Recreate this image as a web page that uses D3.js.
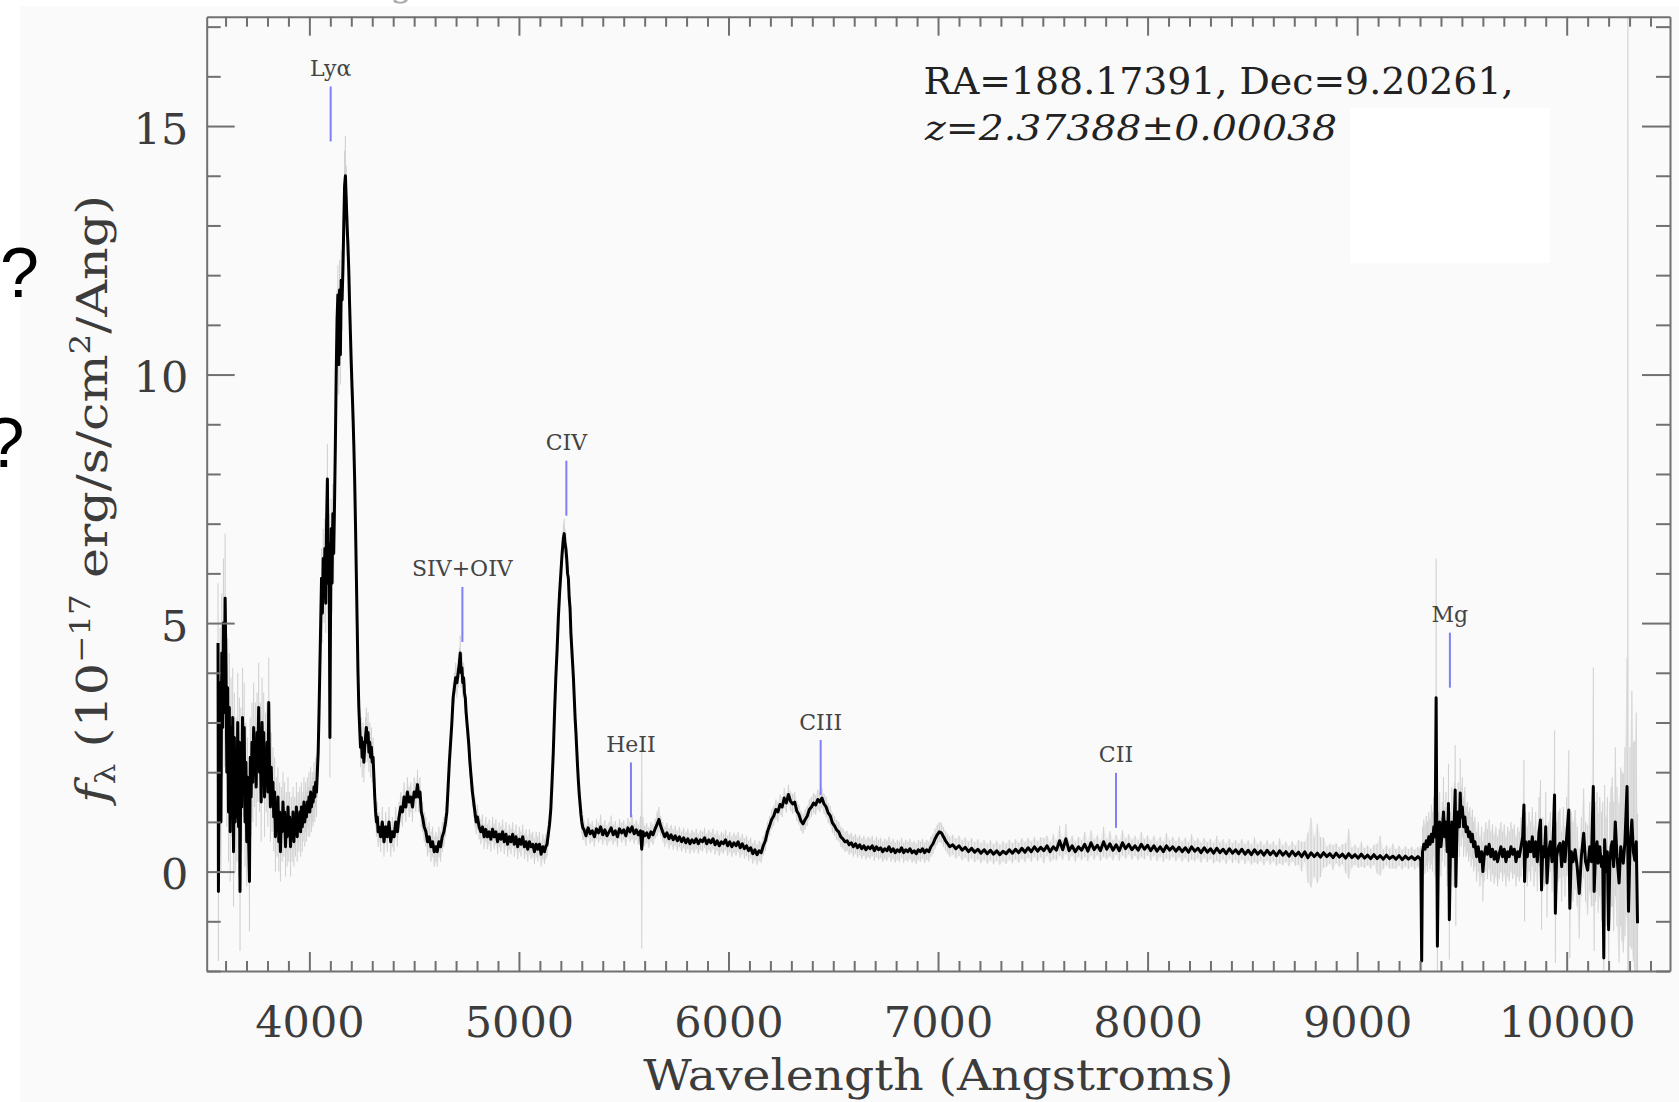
<!DOCTYPE html>
<html><head><meta charset="utf-8">
<script src="https://cdn.jsdelivr.net/npm/d3@7"></script>
<style>html,body{margin:0;padding:0;background:#fff;overflow:hidden}</style>
</head><body>
<svg id="chart" width="1679" height="1102"></svg>
<script>
// ---------------- DATA ----------------
// Axis ranges and tick labels
const xDomain = [3510, 10493];
const yDomain = [-2, 17.2];
const xMajor = [4000, 5000, 6000, 7000, 8000, 9000, 10000];
const yMajor = [0, 5, 10, 15];

// Spectrum: [wavelength (Å), flux (1e-17), error]
const specBlue = [[3564,4.6,1.2],[3566,-0.4,1.4],[3570,2.5,1.0],[3574,3.8,1.1],[3578,1.0,1.0],[3582,4.4,1.2],[3586,2.9,1.0],[3590,5.0,1.3],[3594,3.2,1.1],[3598,5.5,1.3],[3602,4.1,1.2],[3606,2.0,1.1],[3610,3.7,1.0],[3614,1.2,1.0],[3618,3.3,1.1],[3622,0.8,1.0],[3626,2.9,1.0],[3630,1.6,0.9],[3634,3.1,1.0],[3638,0.4,1.1],[3642,2.7,0.9],[3646,1.0,1.0],[3650,2.2,0.9],[3654,1.1,0.9],[3658,3.0,1.0],[3662,0.9,1.0],[3666,2.6,0.9],[3669,-0.4,1.2],[3673,2.4,0.9],[3677,1.3,0.9],[3681,3.1,1.0],[3685,2.0,0.9],[3689,2.9,0.9],[3693,1.0,0.9],[3697,2.2,0.8],[3701,0.6,0.9],[3705,1.9,0.8],[3709,0.9,0.8],[3714,-0.2,1.0],[3718,2.3,0.8],[3722,1.5,0.8],[3726,2.6,0.8],[3730,1.8,0.8],[3734,2.9,0.9],[3738,2.1,0.8],[3742,2.6,0.8],[3746,1.7,0.8],[3750,2.8,0.8],[3754,2.2,0.8],[3758,3.3,0.9],[3762,2.0,0.8],[3766,2.6,0.8],[3770,1.4,0.8],[3774,3.0,0.9],[3778,2.3,0.8],[3782,2.8,0.8],[3786,1.5,0.8],[3790,2.4,0.8],[3794,1.9,0.7],[3798,2.6,0.8],[3802,1.6,0.7],[3806,3.4,0.9],[3810,2.0,0.7],[3814,1.3,0.7],[3818,2.1,0.7],[3822,1.5,0.7],[3826,1.8,0.7],[3830,1.1,0.7],[3834,1.6,0.7],[3838,0.7,0.7],[3842,1.3,0.6],[3846,0.9,0.6],[3850,1.5,0.6],[3854,0.6,0.6],[3858,1.2,0.6],[3862,0.4,0.6],[3866,1.1,0.6],[3870,0.8,0.6],[3874,1.4,0.6],[3878,0.9,0.6],[3882,1.2,0.6],[3886,0.5,0.6],[3890,1.0,0.6],[3894,0.7,0.6],[3898,1.3,0.6],[3902,0.8,0.6],[3906,1.1,0.5],[3910,0.5,0.6],[3914,1.0,0.5],[3918,0.7,0.5],[3922,1.2,0.5],[3926,0.6,0.5],[3930,1.0,0.5],[3934,0.8,0.5],[3938,1.3,0.5],[3942,0.7,0.5],[3946,1.1,0.5],[3950,0.9,0.5],[3954,1.2,0.5],[3958,0.8,0.5],[3962,1.3,0.5],[3966,0.9,0.5],[3970,1.1,0.5],[3974,1.4,0.5],[3978,1.0,0.5],[3982,1.3,0.5],[3986,1.1,0.5],[3990,1.4,0.5],[3994,1.2,0.5],[3998,1.5,0.5],[4002,1.2,0.5],[4006,1.6,0.5],[4010,1.3,0.5],[4014,1.5,0.5],[4018,1.4,0.5],[4022,1.7,0.5],[4026,1.5,0.5],[4030,1.8,0.5],[4034,1.6,0.5],[4038,2.0,0.5]];

const specLya = [[4042,2.4,0.5],[4046,3.2,0.5],[4050,4.1,0.6],[4054,5.0,0.6],[4058,5.9,0.6],[4062,5.2,0.6],[4066,6.3,0.6],[4070,5.6,0.6],[4074,6.5,0.6],[4078,5.4,0.6],[4082,7.0,0.6],[4086,7.9,0.7],[4090,5.8,0.6],[4094,6.6,0.6],[4098,2.7,0.8],[4101,5.2,0.6],[4104,6.9,0.6],[4108,5.8,0.6],[4112,7.2,0.6],[4116,6.4,0.6],[4120,7.4,0.6],[4124,8.6,0.6],[4128,10.0,0.6],[4132,11.1,0.6],[4136,11.6,0.6],[4140,10.2,0.6],[4144,11.7,0.6],[4148,10.4,0.6],[4152,11.9,0.6],[4156,11.5,0.6],[4160,12.1,0.6],[4164,13.0,0.6],[4168,13.8,0.7],[4172,14.0,0.8],[4176,13.5,0.7],[4180,13.0,0.6],[4184,12.6,0.6],[4188,12.1,0.6],[4192,11.4,0.6],[4196,10.8,0.6],[4200,10.2,0.6],[4204,9.7,0.6],[4208,9.2,0.5],[4212,8.6,0.5],[4216,7.9,0.5],[4220,7.0,0.5],[4224,6.0,0.5],[4228,5.0,0.5],[4232,4.0,0.5],[4236,3.3,0.5],[4240,2.9,0.4],[4244,2.5,0.4],[4248,2.7,0.4],[4252,2.3,0.4],[4256,2.6,0.4],[4260,2.2,0.4],[4264,2.5,0.4],[4268,2.7,0.4],[4272,2.9,0.4],[4276,2.6,0.4],[4280,2.8,0.4],[4284,2.4,0.4],[4288,2.6,0.4],[4292,2.3,0.4],[4296,2.5,0.4],[4300,2.2,0.4],[4304,2.3,0.4],[4308,1.9,0.4],[4312,1.5,0.4],[4316,1.2,0.3],[4320,1.0,0.3],[4324,1.1,0.3],[4328,0.8,0.3]];

const specCIV = [[4332,0.9,0.3],[4340,0.7,0.3],[4348,1.0,0.3],[4356,0.6,0.3],[4364,0.9,0.3],[4372,0.7,0.3],[4380,1.0,0.3],[4388,0.6,0.3],[4396,0.8,0.3],[4404,0.7,0.3],[4412,1.0,0.3],[4420,0.8,0.3],[4428,1.1,0.3],[4436,1.3,0.3],[4444,1.2,0.3],[4452,1.5,0.3],[4460,1.3,0.3],[4468,1.6,0.3],[4476,1.4,0.3],[4484,1.5,0.3],[4492,1.3,0.3],[4500,1.6,0.3],[4508,1.5,0.3],[4516,1.75,0.3],[4522,1.5,0.3],[4528,1.6,0.3],[4534,1.2,0.3],[4540,1.1,0.3],[4548,0.9,0.3],[4556,0.8,0.3],[4564,0.6,0.3],[4572,0.7,0.3],[4580,0.5,0.3],[4588,0.6,0.3],[4596,0.4,0.3],[4604,0.5,0.3],[4610,0.4,0.3],[4618,0.6,0.3],[4626,0.5,0.3],[4634,0.7,0.3],[4642,0.8,0.3],[4650,1.0,0.3],[4656,1.2,0.3],[4662,1.7,0.3],[4668,2.2,0.3],[4674,2.6,0.3],[4680,3.0,0.3],[4686,3.5,0.3],[4692,3.7,0.3],[4698,3.9,0.3],[4704,3.8,0.3],[4710,4.0,0.3],[4716,4.2,0.3],[4720,4.4,0.35],[4724,4.0,0.3],[4728,4.1,0.3],[4732,3.8,0.3],[4736,3.9,0.3],[4740,3.6,0.3],[4744,3.5,0.3],[4748,3.2,0.3],[4754,2.9,0.3],[4760,2.6,0.3],[4766,2.2,0.3],[4772,1.9,0.3],[4778,1.6,0.3],[4784,1.4,0.3],[4790,1.2,0.3],[4796,1.0,0.25],[4802,1.1,0.25],[4810,0.9,0.25],[4818,0.8,0.25],[4826,0.9,0.25],[4834,0.7,0.25],[4842,0.85,0.25],[4850,0.7,0.25],[4858,0.8,0.25],[4866,0.65,0.25],[4874,0.85,0.25],[4882,0.7,0.25],[4890,0.8,0.25],[4898,0.6,0.25],[4906,0.75,0.25],[4914,0.65,0.25],[4922,0.8,0.25],[4930,0.6,0.25],[4938,0.75,0.25],[4946,0.55,0.25],[4954,0.7,0.25],[4962,0.6,0.25],[4970,0.75,0.25],[4978,0.55,0.25],[4986,0.7,0.25],[4994,0.5,0.25],[5002,0.65,0.25],[5010,0.55,0.25],[5018,0.7,0.25],[5026,0.5,0.25],[5034,0.6,0.25],[5042,0.45,0.25],[5050,0.6,0.25],[5058,0.5,0.25],[5066,0.55,0.25],[5074,0.4,0.25],[5082,0.55,0.25],[5090,0.45,0.25],[5098,0.55,0.25],[5106,0.35,0.25],[5114,0.5,0.25],[5122,0.4,0.25],[5128,0.5,0.25],[5134,0.55,0.25],[5140,0.75,0.25],[5146,0.95,0.25],[5152,1.25,0.25],[5158,1.8,0.25],[5164,2.4,0.25],[5170,3.2,0.25],[5176,3.9,0.25],[5182,4.45,0.25],[5188,5.1,0.25],[5194,5.6,0.25],[5200,6.0,0.25],[5206,6.4,0.25],[5212,6.7,0.3],[5216,6.8,0.3],[5220,6.6,0.3],[5224,6.5,0.3],[5228,6.3,0.3],[5232,6.0,0.25],[5236,5.9,0.25],[5240,5.5,0.25],[5244,5.3,0.25],[5248,4.8,0.25],[5252,4.5,0.25],[5256,4.2,0.25],[5260,3.9,0.25],[5264,3.5,0.25],[5268,3.1,0.25],[5272,2.8,0.25],[5276,2.45,0.25],[5280,2.1,0.25],[5284,1.8,0.25],[5288,1.55,0.25],[5292,1.35,0.25],[5296,1.15,0.25],[5300,1.0,0.25],[5305,0.88,0.25]];

const specMid = [[5310,0.85,0.2],[5320,0.72,0.2],[5330,0.88,0.2],[5340,0.76,0.2],[5350,0.82,0.2],[5360,0.70,0.2],[5370,0.86,0.2],[5380,0.78,0.2],[5390,0.90,0.25],[5400,0.74,0.2],[5410,0.84,0.2],[5420,0.72,0.2],[5430,0.80,0.2],[5440,0.88,0.25],[5450,0.74,0.2],[5460,0.82,0.2],[5470,0.70,0.2],[5480,0.86,0.2],[5490,0.78,0.2],[5500,0.84,0.2],[5510,0.72,0.2],[5520,0.88,0.2],[5530,0.80,0.2],[5540,0.90,0.25],[5550,0.76,0.2],[5560,0.84,0.2],[5570,0.74,0.2],[5580,0.82,0.3],[5586,0.45,2.0],[5592,0.80,0.3],[5600,0.72,0.2],[5610,0.78,0.2],[5620,0.68,0.2],[5630,0.80,0.2],[5640,0.74,0.2],[5650,0.86,0.2],[5660,0.96,0.25],[5668,1.05,0.25],[5676,0.92,0.2],[5686,0.80,0.2],[5696,0.70,0.2],[5706,0.78,0.2],[5716,0.66,0.2],[5726,0.74,0.2],[5736,0.64,0.2],[5746,0.72,0.2],[5756,0.62,0.2],[5766,0.70,0.2],[5776,0.60,0.2],[5786,0.68,0.2],[5796,0.58,0.2],[5806,0.66,0.2],[5816,0.56,0.2],[5826,0.64,0.2],[5836,0.58,0.2],[5846,0.66,0.2],[5856,0.56,0.2],[5866,0.64,0.2],[5876,0.60,0.2],[5886,0.68,0.2],[5896,0.56,0.2],[5906,0.64,0.2],[5916,0.58,0.2],[5926,0.66,0.2],[5936,0.54,0.2],[5946,0.62,0.2],[5956,0.52,0.2],[5966,0.60,0.2],[5976,0.56,0.2],[5986,0.64,0.2],[5996,0.52,0.2],[6006,0.60,0.2],[6016,0.50,0.2],[6026,0.58,0.2],[6036,0.52,0.2],[6046,0.60,0.2],[6056,0.48,0.2],[6066,0.56,0.2],[6076,0.46,0.2],[6086,0.52,0.2],[6096,0.42,0.2],[6106,0.48,0.2],[6116,0.36,0.2],[6126,0.44,0.2],[6136,0.34,0.2],[6146,0.42,0.2],[6156,0.38,0.2],[6166,0.52,0.2],[6176,0.62,0.2],[6186,0.80,0.2],[6196,0.92,0.2],[6206,1.05,0.2],[6216,1.12,0.2],[6226,1.25,0.2],[6236,1.20,0.2],[6246,1.35,0.2],[6256,1.30,0.2],[6266,1.48,0.2],[6276,1.38,0.2],[6286,1.55,0.2],[6296,1.42,0.2],[6306,1.36,0.2],[6316,1.40,0.2],[6326,1.22,0.2],[6336,1.15,0.2],[6346,1.02,0.2],[6356,0.96,0.2],[6366,1.05,0.2],[6376,1.12,0.2],[6386,1.25,0.2],[6396,1.30,0.2],[6406,1.38,0.2],[6416,1.34,0.2],[6426,1.45,0.2],[6436,1.40,0.2],[6446,1.48,0.2],[6456,1.36,0.2],[6466,1.30,0.2],[6476,1.18,0.2],[6486,1.12,0.2],[6496,0.98,0.2],[6506,0.92,0.2],[6516,0.84,0.2],[6526,0.80,0.2],[6536,0.70,0.2],[6546,0.66,0.2],[6556,0.60,0.2],[6566,0.62,0.2],[6576,0.54,0.2],[6586,0.58,0.2],[6596,0.50,0.2],[6606,0.56,0.2],[6616,0.48,0.2],[6626,0.54,0.2],[6636,0.46,0.2],[6646,0.52,0.2],[6656,0.44,0.2],[6666,0.50,0.2],[6676,0.46,0.2],[6686,0.52,0.2],[6696,0.42,0.2],[6706,0.50,0.2],[6716,0.44,0.2],[6726,0.48,0.2],[6736,0.40,0.2],[6746,0.46,0.2],[6756,0.42,0.2],[6766,0.50,0.2],[6776,0.40,0.2],[6786,0.46,0.2],[6796,0.38,0.2],[6806,0.44,0.2],[6816,0.40,0.2],[6826,0.48,0.2],[6836,0.38,0.2],[6846,0.44,0.2],[6856,0.40,0.2],[6866,0.46,0.2],[6876,0.38,0.2],[6886,0.42,0.2],[6896,0.36,0.2],[6906,0.44,0.2],[6916,0.40,0.2],[6926,0.46,0.2],[6936,0.38,0.2],[6946,0.44,0.2],[6956,0.40,0.2],[6966,0.50,0.2],[6976,0.56,0.2],[6986,0.66,0.2],[6996,0.74,0.2]];

const specRed = [[7006,0.80,0.2],[7016,0.78,0.2],[7026,0.70,0.2],[7036,0.62,0.2],[7046,0.56,0.2],[7056,0.50,0.2],[7070,0.54,0.2],[7085,0.46,0.2],[7100,0.52,0.2],[7115,0.43,0.2],[7130,0.49,0.2],[7145,0.40,0.2],[7160,0.47,0.2],[7175,0.39,0.2],[7190,0.45,0.2],[7205,0.37,0.2],[7220,0.44,0.2],[7235,0.36,0.2],[7250,0.43,0.2],[7265,0.35,0.2],[7280,0.42,0.2],[7295,0.34,0.2],[7310,0.41,0.2],[7325,0.36,0.2],[7340,0.44,0.2],[7355,0.37,0.2],[7370,0.45,0.2],[7385,0.38,0.2],[7400,0.47,0.2],[7415,0.39,0.2],[7430,0.48,0.2],[7445,0.40,0.2],[7460,0.50,0.2],[7475,0.41,0.2],[7490,0.49,0.2],[7505,0.42,0.25],[7520,0.52,0.2],[7535,0.40,0.2],[7550,0.50,0.25],[7565,0.43,0.2],[7580,0.62,0.3],[7595,0.44,0.2],[7610,0.66,0.3],[7625,0.42,0.2],[7640,0.52,0.2],[7655,0.40,0.2],[7670,0.50,0.2],[7685,0.43,0.2],[7700,0.55,0.25],[7715,0.41,0.2],[7730,0.58,0.25],[7745,0.44,0.2],[7760,0.53,0.2],[7775,0.42,0.2],[7790,0.60,0.3],[7805,0.45,0.2],[7820,0.56,0.25],[7835,0.43,0.2],[7850,0.54,0.2],[7865,0.42,0.2],[7880,0.58,0.25],[7895,0.46,0.2],[7910,0.55,0.2],[7925,0.44,0.2],[7940,0.52,0.2],[7955,0.43,0.2],[7970,0.55,0.25],[7985,0.45,0.2],[8000,0.53,0.2],[8015,0.42,0.2],[8030,0.52,0.2],[8045,0.41,0.2],[8060,0.50,0.2],[8075,0.40,0.2],[8090,0.52,0.25],[8105,0.43,0.2],[8120,0.50,0.2],[8135,0.41,0.2],[8150,0.49,0.2],[8165,0.40,0.2],[8180,0.48,0.2],[8195,0.39,0.2],[8210,0.50,0.25],[8225,0.41,0.2],[8240,0.47,0.2],[8255,0.38,0.2],[8270,0.48,0.2],[8285,0.39,0.2],[8300,0.46,0.2],[8315,0.37,0.2],[8330,0.47,0.25],[8345,0.38,0.2],[8360,0.45,0.2],[8375,0.36,0.2],[8390,0.46,0.2],[8405,0.37,0.2],[8420,0.44,0.2],[8435,0.36,0.2],[8450,0.45,0.2],[8465,0.35,0.2],[8480,0.43,0.2],[8495,0.34,0.2],[8510,0.44,0.25],[8525,0.35,0.2],[8540,0.42,0.2],[8555,0.33,0.2],[8570,0.43,0.2],[8585,0.34,0.2],[8600,0.41,0.2],[8615,0.32,0.2],[8630,0.42,0.25],[8645,0.33,0.2],[8660,0.40,0.2],[8675,0.31,0.2],[8690,0.41,0.2],[8705,0.32,0.2],[8720,0.39,0.25],[8735,0.30,0.3],[8750,0.40,0.2],[8765,0.28,0.5],[8780,0.38,0.7],[8795,0.30,0.4],[8810,0.37,0.6],[8825,0.29,0.4],[8840,0.38,0.3],[8855,0.30,0.2],[8870,0.36,0.2],[8885,0.28,0.25],[8900,0.37,0.2],[8915,0.29,0.2],[8930,0.35,0.2],[8945,0.27,0.3],[8960,0.36,0.5],[8975,0.28,0.2],[8990,0.34,0.2],[9005,0.27,0.2],[9020,0.35,0.25],[9035,0.27,0.2],[9050,0.33,0.2],[9065,0.26,0.2],[9080,0.34,0.2],[9095,0.26,0.3],[9110,0.32,0.4],[9125,0.25,0.2],[9140,0.33,0.2],[9155,0.26,0.2],[9170,0.31,0.25],[9185,0.25,0.2],[9200,0.32,0.2],[9215,0.24,0.2],[9230,0.31,0.2],[9245,0.25,0.2],[9260,0.30,0.2],[9275,0.24,0.2],[9290,0.30,0.2],[9300,0.26,0.2]];

const specFar = [[9304,0.22,0.3],[9308,-1.8,0.8],[9312,0.4,0.5],[9318,0.55,0.5],[9324,0.45,0.5],[9330,0.62,0.5],[9336,0.5,0.5],[9342,0.7,0.5],[9348,0.55,0.5],[9354,0.75,0.6],[9360,0.6,0.6],[9366,0.9,0.6],[9372,0.7,0.8],[9377,3.5,2.8],[9380,0.9,0.8],[9383,-1.5,0.9],[9388,0.6,0.6],[9394,1.0,0.6],[9400,0.5,0.6],[9406,0.8,0.6],[9412,1.2,0.7],[9418,0.7,0.6],[9424,1.0,0.6],[9430,0.4,0.7],[9436,1.37,0.8],[9440,-0.97,0.8],[9446,0.6,0.6],[9452,1.0,0.7],[9458,0.3,0.6],[9464,1.1,0.7],[9468,1.64,0.9],[9471,-0.3,0.8],[9476,0.8,0.6],[9482,1.2,0.6],[9488,0.9,0.6],[9492,1.58,0.7],[9496,1.1,0.6],[9502,1.3,0.6],[9508,0.9,0.6],[9514,1.1,0.6],[9520,0.8,0.5],[9526,0.9,0.5],[9532,0.7,0.5],[9538,0.8,0.5],[9544,0.6,0.5],[9550,0.75,0.5],[9556,0.5,0.5],[9562,0.6,0.5],[9570,0.3,0.5],[9578,0.5,0.5],[9586,0.2,0.5],[9594,0.4,0.5],[9600,0.0,0.6],[9606,0.3,0.5],[9614,0.5,0.5],[9622,0.35,0.5],[9630,0.55,0.5],[9638,0.3,0.5],[9646,0.45,0.5],[9654,0.25,0.5],[9662,0.4,0.5],[9670,0.2,0.5],[9678,0.35,0.5],[9686,0.5,0.5],[9694,0.3,0.5],[9702,0.45,0.5],[9710,0.2,0.5],[9718,0.4,0.5],[9726,0.3,0.5],[9734,0.5,0.5],[9742,0.35,0.5],[9750,0.45,0.5],[9758,0.2,0.5],[9766,0.4,0.5],[9774,0.3,0.5],[9782,0.5,0.6],[9790,0.7,0.6],[9796,1.34,0.9],[9799,-0.2,0.8],[9804,0.6,0.6],[9812,0.3,0.6],[9820,0.6,0.6],[9828,0.4,0.6],[9836,0.7,0.6],[9844,0.3,0.6],[9852,0.6,0.6],[9860,0.2,0.6],[9868,0.8,0.7],[9875,1.04,0.8],[9880,-0.37,0.8],[9886,0.5,0.6],[9894,0.3,0.6],[9900,0.9,0.7],[9906,-0.23,0.7],[9914,0.4,0.6],[9922,0.6,0.6],[9930,0.2,0.6],[9936,0.7,0.7],[9942,1.54,1.3],[9946,-0.84,1.0],[9952,0.3,0.7],[9960,0.5,0.7],[9968,0.57,0.7],[9976,0.1,0.7],[9984,0.6,0.7],[9992,0.2,0.7],[10000,0.7,0.8],[10010,1.24,1.2],[10015,-0.74,1.0],[10022,0.4,0.8],[10030,0.2,0.8],[10040,0.44,0.8],[10050,0.1,0.8],[10060,-0.44,0.9],[10070,0.3,0.8],[10081,0.77,0.9],[10090,0.2,0.8],[10100,0.03,0.9],[10110,0.5,0.9],[10118,0.2,0.9],[10127,1.71,2.4],[10131,-0.4,1.2],[10138,0.4,1.0],[10145,0.6,1.0],[10150,0.17,1.0],[10158,0.5,1.0],[10166,0.1,1.1],[10172,0.3,1.1],[10177,-1.74,1.3],[10181,0.64,1.1],[10188,0.0,1.1],[10194,0.4,1.1],[10200,-1.17,1.3],[10206,0.2,1.2],[10212,0.5,1.2],[10217,0.6,1.3],[10224,0.1,1.3],[10232,1.0,1.5],[10240,0.3,1.4],[10250,-0.23,1.6],[10258,0.5,1.6],[10264,0.3,1.7],[10270,0.17,1.8],[10278,0.6,1.9],[10288,1.71,2.6],[10292,0.3,25],[10295,-0.8,2.2],[10302,0.5,2.0],[10311,1.04,2.6],[10318,0.4,2.2],[10325,0.23,2.4],[10332,0.6,2.6],[10338,-1.04,2.2]];

// Emission line markers
const zRed = 2.37388;
const lineNames = ["Lyα", "SIV+OIV", "CIV", "HeII", "CIII", "CII", "Mg"];
const lineRest = [1215.67, 1402.0, 1549.06, 1640.42, 1908.73, 2326.44, 2798.75];
const lineBase = [14.69, 4.62, 7.16, 1.09, 1.54, 0.88, 3.70];

// Annotation texts
const coordText = "RA=188.17391, Dec=9.20261,";
const zText = "z=2.37388±0.00038";
const xTitle = "Wavelength (Angstroms)";
// white box (in data units: [λ0, λ1, f0, f1])
const whiteBox = [8966, 9919, 12.24, 15.36];

// ---------------- DRAW ----------------
const W = 1679, H = 1102;
const svg = d3.select("#chart");
svg.append("rect").attr("width", W).attr("height", H).attr("fill", "#fff");
svg.append("rect").attr("x", 20).attr("y", 6).attr("width", W - 20).attr("height", H - 6).attr("fill", "#fafafa");

const x = d3.scaleLinear().domain(xDomain).range([206.7, 1670]);
const y = d3.scaleLinear().domain(yDomain).range([971, 16.7]);
const [x0, x1] = x.range();
const [yb, yt] = y.range();

svg.append("defs").append("clipPath").attr("id", "clip").append("rect")
  .attr("x", x0).attr("y", yt).attr("width", x1 - x0).attr("height", yb - yt);

// white box
svg.append("rect")
  .attr("x", x(whiteBox[0])).attr("y", y(whiteBox[3]))
  .attr("width", x(whiteBox[1]) - x(whiteBox[0]))
  .attr("height", y(whiteBox[2]) - y(whiteBox[3]))
  .attr("fill", "#ffffff");

const spec = [].concat(specBlue, specLya, specCIV, specMid, specRed, specFar);
const plot = svg.append("g").attr("clip-path", "url(#clip)");

plot.append("path").datum(spec)
  .attr("d", d3.area().x(d => x(d[0])).y0(d => y(d[1] - d[2])).y1(d => y(d[1] + d[2])))
  .attr("fill", "#ebebeb");
plot.selectAll("line.err").data(spec).join("line").attr("class", "err")
  .attr("x1", d => x(d[0])).attr("x2", d => x(d[0]))
  .attr("y1", d => y(d[1] - d[2])).attr("y2", d => y(d[1] + d[2]))
  .attr("stroke", "#d2d2d2").attr("stroke-width", 1.1);
plot.append("path").datum(spec)
  .attr("d", d3.line().x(d => x(d[0])).y(d => y(d[1])))
  .attr("fill", "none").attr("stroke", "#000").attr("stroke-width", 3)
  .attr("stroke-linejoin", "round");

// axes
const axisColor = "#707070";
function style(g, keepDomain) {
  g.attr("font-family", "DejaVu Serif").attr("font-size", 43);
  g.selectAll(".tick line").attr("stroke", axisColor).attr("stroke-width", 2);
  if (keepDomain) g.select(".domain").attr("stroke", axisColor).attr("stroke-width", 2);
  else g.select(".domain").remove();
  g.selectAll(".tick text").attr("fill", "#3c3c3c");
}
const xMinor = d3.range(3600, 10500, 100).filter(v => !xMajor.includes(v));
const yMinor = d3.range(-2, 18, 1).filter(v => !yMajor.includes(v));

// bottom
svg.append("g").attr("transform", `translate(0,${yb})`)
  .call(d3.axisBottom(x).tickValues(xMinor).tickSize(-10).tickFormat(""))
  .call(g => style(g, false));
const gb = svg.append("g").attr("transform", `translate(0,${yb})`)
  .call(d3.axisBottom(x).tickValues(xMajor).tickSizeInner(-19).tickSizeOuter(0).tickFormat(d => String(d)))
  .call(g => style(g, true));
gb.selectAll(".tick text").attr("y", 65.7).attr("dy", 0);
// top
svg.append("g").attr("transform", `translate(0,${yt})`)
  .call(d3.axisTop(x).tickValues(xMinor).tickSize(-10).tickFormat(""))
  .call(g => style(g, false));
svg.append("g").attr("transform", `translate(0,${yt})`)
  .call(d3.axisTop(x).tickValues(xMajor).tickSizeInner(-19).tickSizeOuter(0).tickFormat(""))
  .call(g => style(g, true));
// left
svg.append("g").attr("transform", `translate(${x0},0)`)
  .call(d3.axisLeft(y).tickValues(yMinor).tickSize(-14).tickFormat(""))
  .call(g => style(g, false));
const gl = svg.append("g").attr("transform", `translate(${x0},0)`)
  .call(d3.axisLeft(y).tickValues(yMajor).tickSizeInner(-28).tickSizeOuter(0).tickPadding(18.4).tickFormat(d => String(d)))
  .call(g => style(g, true));
gl.selectAll(".tick text").attr("dy", 0).attr("y", 17);
// right
svg.append("g").attr("transform", `translate(${x1},0)`)
  .call(d3.axisRight(y).tickValues(yMinor).tickSize(-14).tickFormat(""))
  .call(g => style(g, false));
svg.append("g").attr("transform", `translate(${x1},0)`)
  .call(d3.axisRight(y).tickValues(yMajor).tickSizeInner(-28).tickSizeOuter(0).tickFormat(""))
  .call(g => style(g, true));

// axis titles
svg.append("text").attr("x", (x0 + x1) / 2).attr("y", 1090)
  .attr("text-anchor", "middle").attr("font-family", "DejaVu Serif").attr("font-size", 43)
  .attr("fill", "#3c3c3c").attr("textLength", 590).attr("lengthAdjust", "spacingAndGlyphs")
  .text(xTitle);

const yt_ = svg.append("text").attr("transform", "translate(107,499) rotate(-90)")
  .attr("text-anchor", "middle").attr("font-family", "DejaVu Serif").attr("font-size", 42)
  .attr("fill", "#3c3c3c").attr("textLength", 608).attr("lengthAdjust", "spacingAndGlyphs");
yt_.append("tspan").attr("font-style", "italic").text("f");
yt_.append("tspan").attr("font-size", 27).attr("dy", 8).text("λ");
yt_.append("tspan").attr("dy", -8).text(" (10");
yt_.append("tspan").attr("font-size", 27).attr("dy", -17).text("−17");
yt_.append("tspan").attr("dy", 17).text(" erg/s/cm");
yt_.append("tspan").attr("font-size", 27).attr("dy", -17).text("2");
yt_.append("tspan").attr("dy", 17).text("/Ang)");

// info text
svg.append("text").attr("x", 923.5).attr("y", 94)
  .attr("font-family", "DejaVu Serif").attr("font-size", 37.5).attr("fill", "#222")
  .attr("textLength", 590).attr("lengthAdjust", "spacingAndGlyphs").text(coordText);
svg.append("text").attr("x", 925).attr("y", 140)
  .attr("font-family", "DejaVu Serif").attr("font-style", "italic").attr("font-size", 36).attr("fill", "#222")
  .attr("textLength", 412).attr("lengthAdjust", "spacingAndGlyphs").text(zText);

// emission line markers
const lg = svg.append("g");
lineNames.forEach((name, i) => {
  const lx = x(lineRest[i] * (1 + zRed));
  const ly = y(lineBase[i]);
  lg.append("line").attr("x1", lx).attr("x2", lx).attr("y1", ly).attr("y2", ly - 55)
    .attr("stroke", "#7f7ff5").attr("stroke-width", 2);
  lg.append("text").attr("x", lx).attr("y", ly - 65.5).attr("text-anchor", "middle")
    .attr("font-family", "DejaVu Serif").attr("font-size", 22).attr("fill", "#444").text(name);
});

// stray marks outside the figure (cut off in the reference too)
svg.append("text").attr("x", 0).attr("y", 296.7).attr("font-family", "Liberation Sans")
  .attr("font-size", 70).attr("fill", "#000").text("?");
svg.append("text").attr("x", -14.5).attr("y", 467).attr("font-family", "Liberation Sans")
  .attr("font-size", 70).attr("fill", "#000").text("?");
svg.append("text").attr("x", 390).attr("y", -4).attr("font-family", "DejaVu Serif")
  .attr("font-size", 36).attr("fill", "#aaa").text("g");
</script>
</body></html>
